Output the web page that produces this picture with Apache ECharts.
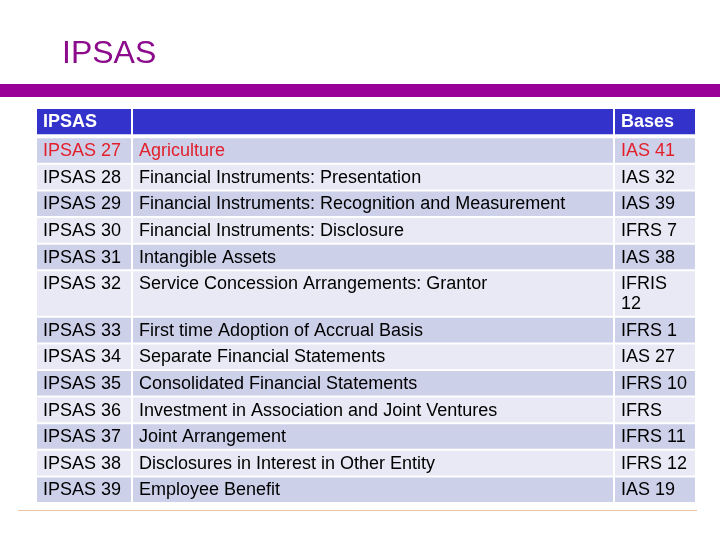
<!DOCTYPE html>
<html>
<head>
<meta charset="utf-8">
<script src="https://cdn.jsdelivr.net/npm/echarts@6/dist/echarts.min.js"></script>
<style>html,body{margin:0;padding:0;background:#fff;}#c{width:720px;height:540px;}</style>
</head>
<body>
<div id="c"></div>
<script>
// ---- data ----
const titleText = 'IPSAS';
const headers = ['IPSAS', '', 'Bases'];
const codes = ['IPSAS 27','IPSAS 28','IPSAS 29','IPSAS 30','IPSAS 31','IPSAS 32','IPSAS 33','IPSAS 34','IPSAS 35','IPSAS 36','IPSAS 37','IPSAS 38','IPSAS 39'];
const names = ['Agriculture','Financial Instruments: Presentation','Financial Instruments: Recognition and Measurement','Financial Instruments: Disclosure','Intangible Assets','Service Concession Arrangements: Grantor','First time Adoption of Accrual Basis','Separate Financial Statements','Consolidated Financial Statements','Investment in Association and Joint Ventures','Joint Arrangement','Disclosures in Interest in Other Entity','Employee Benefit'];
const bases = ['IAS 41','IAS 32','IAS 39','IFRS 7','IAS 38','IFRIS\n12','IFRS 1','IAS 27','IFRS 10','IFRS','IFRS 11','IFRS 12','IAS 19'];
const highlighted = ['IPSAS 27'];

// ---- layout ----
const colEdges = [0, 96, 578, 660];   // axis units across the table
const headerUnits = 1.1;
const extraLineUnits = 0.75;

const rows = [headers].concat(codes.map((c, i) => [c, names[i], bases[i]]));
const rowStart = [], rowEnd = [];
let acc = 0;
rows.forEach((r, i) => {
  const lines = Math.max.apply(null, r.map(t => t.split('\n').length));
  const h = i === 0 ? headerUnits : 1 + extraLineUnits * (lines - 1);
  rowStart.push(acc); acc += h; rowEnd.push(acc);
});
const totalUnits = acc;

const cellData = [];
rows.forEach((r, ri) => r.forEach((t, ci) => cellData.push([ci, ri])));

const FONT = '"Liberation Sans", Arial, sans-serif';
const HEADER_BG = '#3333CC';
const DARK_BG = '#CDD0E9';
const LIGHT_BG = '#E8E9F4';
const RED = '#E2202B';

const chart = echarts.init(document.getElementById('c'), null, {renderer: 'canvas'});
chart.setOption({
  animation: false,
  backgroundColor: '#ffffff',
  title: {
    text: titleText, left: 62, top: 38, padding: 0,
    textStyle: {fontFamily: FONT, fontSize: 32, fontWeight: 'normal', color: '#8C0A8C'}
  },
  graphic: [
    {type: 'rect', shape: {x: 0, y: 84, width: 720, height: 13}, style: {fill: '#990099'}, silent: true},
    {type: 'line', shape: {x1: 18, y1: 510.5, x2: 697, y2: 510.5}, style: {stroke: '#EBC3A2', lineWidth: 1}, silent: true}
  ],
  grid: {left: 36, right: 24, top: 108, bottom: 37},
  xAxis: {type: 'value', min: 0, max: colEdges[colEdges.length - 1], show: false},
  yAxis: {type: 'value', min: 0, max: totalUnits, inverse: true, show: false},
  series: [{
    type: 'custom',
    data: cellData,
    silent: true,
    renderItem: function (params, api) {
      const ci = api.value(0), ri = api.value(1);
      const p0 = api.coord([colEdges[ci], rowStart[ri]]);
      const p1 = api.coord([colEdges[ci + 1], rowEnd[ri]]);
      const x = p0[0] + 1, y = p0[1] + 1;
      let w = p1[0] - p0[0] - 2, h = p1[1] - p0[1] - 2;
      let fill, color, weight = 'normal';
      if (ri === 0) { fill = HEADER_BG; color = '#ffffff'; weight = 'bold'; h -= 2; }
      else {
        fill = (ri % 2 === 1) ? DARK_BG : LIGHT_BG;
        color = highlighted.indexOf(rows[ri][0]) >= 0 ? RED : '#000000';
      }
      return {
        type: 'group',
        children: [
          {type: 'rect', shape: {x: x, y: y, width: w, height: h}, style: {fill: fill}},
          {type: 'text', x: x + 6, y: y + 3,
           style: {text: rows[ri][ci], fill: color, font: weight + ' 18px ' + FONT,
                   lineHeight: 20, verticalAlign: 'top', align: 'left'}}
        ]
      };
    }
  }]
});
</script>
</body>
</html>
